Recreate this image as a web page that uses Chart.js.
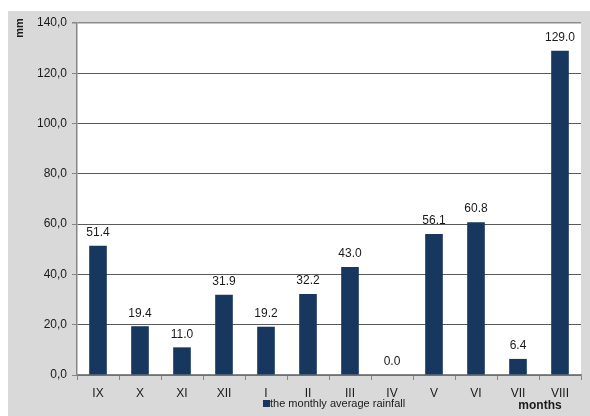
<!DOCTYPE html>
<html>
<head>
<meta charset="utf-8">
<script src="https://cdn.jsdelivr.net/npm/chart.js@4"></script>
<style>
  html, body { margin: 0; padding: 0; background: #ffffff; }
  #wrap { position: relative; width: 590px; height: 416px; }
</style>
</head>
<body>
<div id="wrap"><canvas id="c" width="590" height="416"></canvas></div>
<script>
// Monthly average rainfall, hydrological year September–August
const months = ['IX', 'X', 'XI', 'XII', 'I', 'II', 'III', 'IV', 'V', 'VI', 'VII', 'VIII'];
const rainfall = [51.4, 19.4, 11.0, 31.9, 19.2, 32.2, 43.0, 0.0, 56.1, 60.8, 6.4, 129.0];
const yTicks = [0, 20, 40, 60, 80, 100, 120, 140];
const seriesName = 'the monthly average rainfall';
const yTitle = 'mm';
const xTitle = 'months';

const FONT = "'Liberation Sans', Arial, sans-serif";
const BAR = '#17375e';
const TEXT = '#1a1a1a';

// gray panel behind the chart with a white plotting area
const panelPlugin = {
  id: 'panel',
  beforeDraw(chart) {
    const { ctx, chartArea: a } = chart;
    ctx.save();
    ctx.fillStyle = '#d9d9d9';
    ctx.fillRect(8, 11, chart.width - 8, chart.height - 11);
    ctx.fillStyle = '#ffffff';
    ctx.fillRect(a.left, a.top - 1, a.right - a.left, a.bottom - a.top + 1);
    ctx.restore();
  }
};

// value labels above each bar, axis titles and the legend entry
const labelsPlugin = {
  id: 'labels',
  afterDatasetsDraw(chart) {
    const { ctx } = chart;
    const meta = chart.getDatasetMeta(0);
    ctx.save();
    ctx.fillStyle = TEXT;
    ctx.font = '12px ' + FONT;
    ctx.textAlign = 'center';
    ctx.textBaseline = 'middle';
    meta.data.forEach((bar, i) => {
      ctx.fillText(rainfall[i].toFixed(1), bar.x, bar.y - 13);
    });

    // y axis title, rotated
    ctx.save();
    ctx.translate(20, 28);
    ctx.rotate(-Math.PI / 2);
    ctx.font = 'bold 11px ' + FONT;
    ctx.fillText(yTitle, 0, 0);
    ctx.restore();

    // x axis title
    ctx.font = 'bold 12px ' + FONT;
    ctx.fillText(xTitle, 540, 406);

    // legend
    ctx.font = '11px ' + FONT;
    ctx.textAlign = 'left';
    ctx.fillStyle = BAR;
    ctx.fillRect(263, 400, 7, 7);
    ctx.fillStyle = TEXT;
    ctx.fillText(seriesName, 270, 404);
    ctx.restore();
  }
};

new Chart(document.getElementById('c'), {
  type: 'bar',
  data: {
    labels: months,
    datasets: [{
      label: seriesName,
      data: rainfall,
      backgroundColor: BAR,
      borderWidth: 0,
      barPercentage: 0.42,
      categoryPercentage: 1.0
    }]
  },
  options: {
    responsive: false,
    animation: false,
    devicePixelRatio: 1,
    layout: { padding: { left: 0, top: 23, right: 9, bottom: 0 } },
    plugins: {
      legend: { display: false },
      tooltip: { enabled: false }
    },
    scales: {
      x: {
        offset: true,
        grid: {
          offset: true,
          drawOnChartArea: false,
          drawTicks: true,
          tickLength: 5,
          tickColor: '#868686'
        },
        border: { display: true, color: '#868686', width: 1.5 },
        ticks: { color: TEXT, font: { family: FONT, size: 12 }, padding: 6, maxRotation: 0 },
        afterFit(scale) { scale.height = 41; }
      },
      y: {
        min: 0,
        max: 140,
        afterBuildTicks(scale) { scale.ticks = yTicks.map(v => ({ value: v })); },
        grid: {
          color: ctx => (ctx.tick && ctx.tick.value === 140) ? '#8c8c8c' : '#5a5a5a',
          lineWidth: ctx => (ctx.tick && ctx.tick.value === 140) ? 1.5 : 1,
          drawTicks: true,
          tickLength: 5,
          tickColor: '#868686'
        },
        border: { display: true, color: '#868686', width: 1.5 },
        ticks: {
          color: TEXT,
          font: { family: FONT, size: 12 },
          padding: 5,
          callback: v => Number(v).toFixed(1).replace('.', ',')
        },
        afterFit(scale) { scale.width = 77; }
      }
    }
  },
  plugins: [panelPlugin, labelsPlugin]
});
</script>
</body>
</html>
